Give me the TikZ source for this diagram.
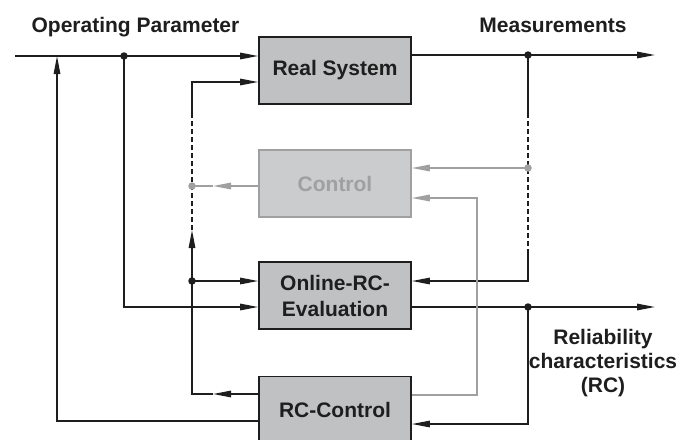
\documentclass[tikz,border=0pt]{standalone}
\usepackage{fontspec}
\setmainfont{Liberation Sans}
\usetikzlibrary{arrows.meta}
\definecolor{ink}{HTML}{1E1E1E}
\definecolor{boxfill}{HTML}{C0C1C3}
\definecolor{lightfill}{HTML}{CBCCCE}
\definecolor{lightline}{HTML}{A0A0A0}
\tikzset{
  line/.style={draw=ink, line width=1.4pt},
  arr/.style={line, -{Triangle[length=18pt,width=6.5pt]}},
  garr/.style={draw=lightline, line width=1.4pt, -{Triangle[length=18pt,width=6.5pt]}},
  gline/.style={draw=lightline, line width=1.4pt},
  dline/.style={draw=ink, line width=1.3pt, dash pattern=on 5pt off 3pt},
  blockbox/.style={draw=ink, line width=1.8pt, fill=boxfill, minimum width=152pt, minimum height=67pt, inner sep=0pt, text=ink, font=\fontsize{21}{26}\selectfont\bfseries, align=center},
  ghostbox/.style={draw=lightline, line width=1.5pt, fill=lightfill, minimum width=152pt, minimum height=67pt, inner sep=0pt, text=lightline, font=\fontsize{21}{26}\selectfont\bfseries},
  label/.style={text=ink, font=\fontsize{21}{24}\selectfont\bfseries, align=center, inner sep=0pt},
  jdot/.style={circle, fill=ink, inner sep=0pt, minimum size=7.5pt},
  gdot/.style={circle, fill=lightline, inner sep=0pt, minimum size=7.5pt},
}
\begin{document}
\begin{tikzpicture}[x=1pt,y=-1pt]
\clip (0,0) rectangle (695,439);
\useasboundingbox (0,0) rectangle (695,439);

% blocks
\node[blockbox] (rs) at (335,70.5) {Real System};
\node[ghostbox] (ctl) at (335,183.5) {Control};
\node[blockbox] (on) at (335,295.5) {Online-RC-\\Evaluation};
\node[blockbox] (rcc) at (335,410) {RC-Control};

% labels
\node[label, anchor=base] (op) at (135.5,32) {Operating Parameter};
\node[label, anchor=base] (meas) at (553,32) {Measurements};
\node[label] (rel) at (603,363) {Reliability\\characteristics\\(RC)};

% junction coordinates
\coordinate (in) at (15,56);
\coordinate (pdot) at (124,56);
\coordinate (fbx) at (57,56);
\coordinate (mdot) at (528,55);
\coordinate (mout) at (655,55);
\coordinate (rdot) at (528,307);
\coordinate (rout) at (655,307);
\coordinate (ldot) at (192,281);
\coordinate (gldot) at (192,186);
\coordinate (grdot) at (528,168);

% operating parameter input
\draw[arr] (in) -- (rs.west |- in);
\draw[arr] (pdot) -- (pdot |- rout) -- (on.west |- rout);
\node[jdot] at (pdot) {};

% measurements output
\draw[arr] (rs.east |- mdot) -- (mout);
\node[jdot] at (mdot) {};
\draw[line] (mdot) -- (528,113);
\draw[dline] (528,113) -- (528,250);
\draw[arr] (528,250) -- (528,281) -- (on.east |- ldot);

% RC output
\draw[arr] (on.east |- rdot) -- (rout);
\node[jdot] at (rdot) {};
\draw[arr] (rdot) -- (528,424) -- (rcc.east |- 0,424);

% RC-Control outputs
\draw[arr] (rcc.west |- 0,421) -- (57,421) -- (fbx);
\draw[arr] (rcc.west |- 0,394) -- (213,394);
\draw[arr] (213,394) -- (192,394) -- (192,230);
\draw[dline] (192,230) -- (192,115);
\draw[arr] (192,115) -- (192,82) -- (rs.west |- 0,82);
\draw[arr] (ldot) -- (on.west |- ldot);
\node[jdot] at (ldot) {};

% grey control paths
\draw[garr] (ctl.west |- gldot) -- (213,186);
\draw[gline] (213,186) -- (gldot);
\node[gdot] at (gldot) {};
\draw[garr] (grdot) -- (ctl.east |- grdot);
\node[gdot] at (grdot) {};
\draw[garr] (rcc.east |- 0,395) -- (477,395) -- (477,198) -- (ctl.east |- 0,198);
\end{tikzpicture}
\end{document}
